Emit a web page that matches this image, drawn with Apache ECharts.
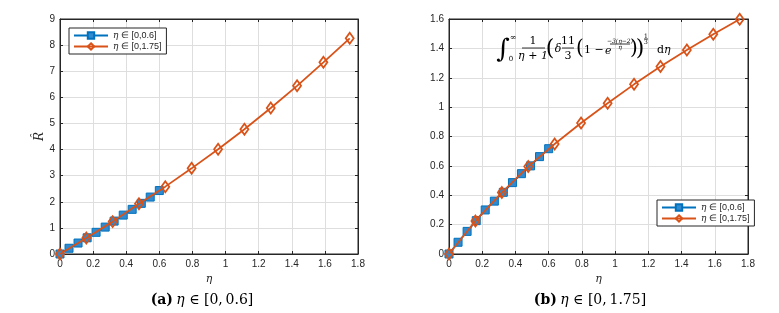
<!DOCTYPE html>
<html><head><meta charset="utf-8">
<script src="https://cdn.jsdelivr.net/npm/echarts@6/dist/echarts.min.js"></script>
<style>html,body{margin:0;padding:0;background:#fff}#c{width:779px;height:313px}</style>
</head><body><div id="c"></div>
<script>
const etaBlue = [0, 0.0545, 0.109, 0.164, 0.218, 0.273, 0.327, 0.382, 0.436, 0.491, 0.545, 0.6];
const etaOrange = [0, 0.159, 0.318, 0.477, 0.636, 0.795, 0.955, 1.114, 1.273, 1.432, 1.591, 1.75];
const leftBlue = [0, 0.22, 0.42, 0.62, 0.83, 1.03, 1.26, 1.49, 1.71, 1.94, 2.18, 2.43];
const leftOrange = [0, 0.61, 1.24, 1.92, 2.58, 3.28, 4.01, 4.78, 5.59, 6.44, 7.34, 8.26];
const rightBlue = [0, 0.08, 0.154, 0.227, 0.30, 0.36, 0.42, 0.486, 0.547, 0.60, 0.663, 0.717];
const rightOrange = [0, 0.225, 0.418, 0.595, 0.749, 0.892, 1.026, 1.155, 1.276, 1.389, 1.496, 1.598];
const nameBlue = 'η ∈ [0,0.6]';
const nameOrange = 'η ∈ [0,1.75]';
const captionA = ['(a)', 'η', ' ∈ [0,\u20090.6]'];
const captionB = ['(b)', 'η', ' ∈ [0,\u20091.75]'];

const BLUE = '#0072BD', ORANGE = '#D95319', AX = '#262626', GRIDC = '#dedede';
const pairs = (xs, ys) => xs.map((x, i) => [x, ys[i]]);
const chart = echarts.init(document.getElementById('c'));

function xAx(gi, top) {
  return {
    type: 'value', gridIndex: gi, min: 0, max: 1.8, interval: 0.2, position: top ? 'top' : 'bottom',
    axisLine: { show: true, onZero: false, lineStyle: { color: AX, width: 1 } },
    axisTick: { show: true, inside: true, length: 3, lineStyle: { color: AX } },
    axisLabel: { show: !top, color: AX, fontSize: 10, fontFamily: 'Liberation Sans, Arial', margin: 5,
      formatter: v => String(+v.toFixed(1)) },
    splitLine: { show: !top, lineStyle: { color: GRIDC, width: 1 } },
    name: top ? '' : 'η', nameLocation: 'middle', nameGap: 20,
    nameTextStyle: { fontFamily: 'DejaVu Serif, serif', fontStyle: 'italic', fontSize: 11, color: AX }
  };
}
function yAx(gi, right, max, interval, name) {
  return {
    type: 'value', gridIndex: gi, min: 0, max: max, interval: interval, position: right ? 'right' : 'left',
    axisLine: { show: true, onZero: false, lineStyle: { color: AX, width: 1 } },
    axisTick: { show: true, inside: true, length: 3, lineStyle: { color: AX } },
    axisLabel: { show: !right, color: AX, fontSize: 10, fontFamily: 'Liberation Sans, Arial', margin: 5,
      formatter: v => String(+v.toFixed(1)) },
    splitLine: { show: !right, lineStyle: { color: GRIDC, width: 1 } },
    name: right ? '' : name, nameLocation: 'middle', nameGap: 13, nameRotate: 90,
    nameTextStyle: { fontFamily: 'DejaVu Serif, serif', fontStyle: 'italic', fontSize: 12, color: AX }
  };
}
function blueSeries(xi, yi, ys) {
  return { name: nameBlue, type: 'line', xAxisIndex: xi, yAxisIndex: yi, data: pairs(etaBlue, ys),
    symbol: 'rect', symbolSize: 8, lineStyle: { color: BLUE, width: 1.8 },
    itemStyle: { color: '#2f8ad0', borderColor: BLUE, borderWidth: 1 }, z: 2, animation: false };
}
function orangeSeries(xi, yi, ys) {
  return { name: nameOrange, type: 'line', xAxisIndex: xi, yAxisIndex: yi, data: pairs(etaOrange, ys),
    symbol: 'diamond', symbolSize: [8, 11], lineStyle: { color: ORANGE, width: 1.8 },
    itemStyle: { color: 'rgba(255,255,255,0)', borderColor: ORANGE, borderWidth: 1.8 }, z: 3, animation: false };
}
function legend(left, top) {
  return { left: left, top: top, orient: 'vertical', itemWidth: 34, itemHeight: 8, itemGap: 2,
    padding: [3, 5, 3, 4], borderColor: AX, borderWidth: 1, backgroundColor: '#fff', borderRadius: 0,
    selectedMode: false, data: [nameBlue, nameOrange],
    formatter: n => '{i|η}' + n.slice(1),
    textStyle: { fontSize: 9, color: AX, fontFamily: 'Liberation Sans, Arial',
      rich: { i: { fontStyle: 'italic', fontFamily: 'DejaVu Serif, serif', fontSize: 9, color: AX } } } };
}

const F = 'DejaVu Serif, Liberation Serif, serif';
function T(x, y, text, size, opts) {
  opts = opts || {};
  return { type: 'text', x: x, y: y, z: 100, style: { text: text, fill: '#000',
    font: (opts.italic ? 'italic ' : '') + size + 'px ' + F, align: opts.align || 'center', verticalAlign: 'middle' } };
}
function L(x1, x2, y) { return { type: 'line', z: 100, shape: { x1: x1, y1: y, x2: x2, y2: y }, style: { stroke: '#000', lineWidth: 0.8 } }; }

const formula = [
  T(503, 50, '∫', 26, { italic: false }),
  T(511, 59, '0', 7), T(513, 38, '∞', 8),
  T(533, 41, '1', 11), L(522, 545, 48), T(533, 56, 'η + 1', 11, { italic: true }),
  T(550, 49, '(', 22),
  T(558, 49, 'δ', 11, { italic: true }),
  T(568, 41, '11', 11), L(562, 574, 48), T(568, 56, '3', 11),
  T(580, 49, '(', 20),
  T(584, 50, '1 − ', 11, { align: 'left' }),
  T(605, 51, 'e', 11, { italic: true, align: 'left' }),
  T(620, 41, '−3(η−2)', 6, { italic: true }), L(610, 630, 44), T(620, 47, 'η', 6, { italic: true }),
  T(634, 49, ')', 20), T(640, 49, ')', 22),
  T(646, 36, '1', 6), L(644, 648, 39), T(646, 42, '3', 6),
  T(657, 50, 'd', 11, { align: 'left' }), T(664, 50, 'η', 11, { italic: true, align: 'left' })
];

function caption(cx, parts) {
  return { type: 'text', x: cx, y: 300, z: 100, style: {
    text: '{b|' + parts[0] + '} {i|' + parts[1] + '}{n|' + parts[2] + '}', align: 'center', verticalAlign: 'middle',
    rich: { b: { fontWeight: 'bold', fontFamily: F, fontSize: 14, fill: '#000' },
            i: { fontStyle: 'italic', fontFamily: F, fontSize: 14, fill: '#000' },
            n: { fontFamily: F, fontSize: 14, fill: '#000' } } } };
}

chart.setOption({
  animation: false,
  backgroundColor: '#fff',
  grid: [
    { left: 60, top: 19, width: 298, height: 235, show: true, borderColor: AX, borderWidth: 1, backgroundColor: '#fff' },
    { left: 449, top: 19, width: 299, height: 235, show: true, borderColor: AX, borderWidth: 1, backgroundColor: '#fff' }
  ],
  xAxis: [xAx(0, false), xAx(0, true), xAx(1, false), xAx(1, true)],
  yAxis: [yAx(0, false, 9, 1, 'R̂'), yAx(0, true, 9, 1, ''), yAx(1, false, 1.6, 0.2, ''), yAx(1, true, 1.6, 0.2, '')],
  legend: [legend(69, 28), legend(657, 200)],
  series: [
    blueSeries(0, 0, leftBlue), orangeSeries(0, 0, leftOrange),
    blueSeries(2, 2, rightBlue), orangeSeries(2, 2, rightOrange)
  ],
  graphic: formula.concat([caption(202, captionA), caption(590, captionB)])
});
</script></body></html>
